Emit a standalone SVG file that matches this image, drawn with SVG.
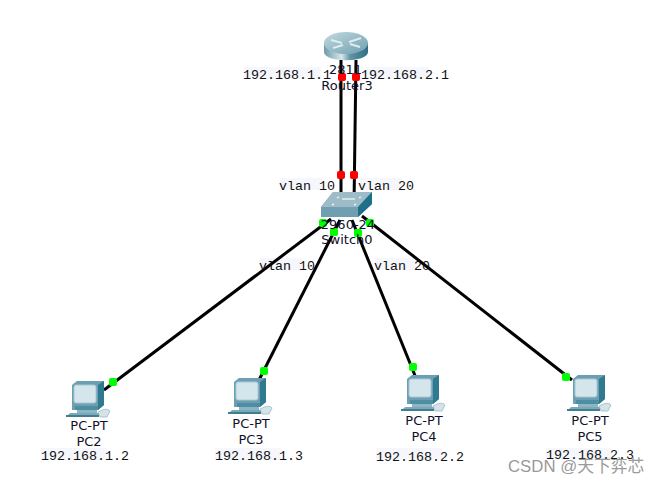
<svg xmlns="http://www.w3.org/2000/svg" width="660" height="483" viewBox="0 0 660 483">
<style>
.lnk{stroke:#000;stroke-width:3;fill:none}
.lbl{font:13px "DejaVu Sans","Liberation Sans",sans-serif;fill:#10102a;text-anchor:middle}
.ip{font:13.33px "Liberation Mono","DejaVu Sans Mono",monospace;fill:#111}
.bg{fill:#f5f7fc}
.wm{font:16.8px "Liberation Sans","Noto Sans CJK SC",sans-serif;fill:#9a9a9a}
</style>
<defs>
<linearGradient id="rt" x1="0" x2="1" y1="0" y2="0">
<stop offset="0" stop-color="#6f9aa8"/><stop offset=".4" stop-color="#d6e6ea"/><stop offset=".6" stop-color="#5f93a3"/><stop offset="1" stop-color="#2f6f85"/>
</linearGradient>
<linearGradient id="rtop" x1="0" x2="1" y1="0" y2="1">
<stop offset="0" stop-color="#c4dae0"/><stop offset="1" stop-color="#6e9fae"/>
</linearGradient>
<g id="pc">
<path d="M1 3L6 -1H33V23L27 28H1Z" fill="#6b9fb1"/>
<path d="M27 3L33 -1V23L27 28Z" fill="#2f7a90"/>
<rect x="3" y="3" width="22" height="18" rx="2" fill="#d5e5ec" stroke="#a8c8d4"/>
<rect x="4" y="24" width="23" height="4" fill="#4f8da2"/>
<rect x="6" y="28" width="20" height="3" fill="#8db5c3"/>
<path d="M-1 31H29L27 35H-5Z" fill="#7aa9ba"/>
<path d="M-5 33H28V35H-5Z" fill="#3f7d92"/>
<path d="M27 30Q36 25 39 29L36 35H29Z" fill="#d4e3e8" stroke="#8fb3c0" stroke-width=".7"/>
</g>
</defs>
<rect width="660" height="483" fill="#fff"/>
<g id="label-backs">
<rect x="244" y="67" width="77" height="12" class="bg"/><rect x="366" y="67" width="63" height="12" class="bg"/>
<rect x="280" y="178" width="42" height="12" class="bg"/><rect x="360" y="178" width="42" height="12" class="bg"/>
<rect x="260" y="258" width="42" height="12" class="bg"/><rect x="375" y="258" width="42" height="12" class="bg"/>
<rect x="41" y="448" width="66" height="12" class="bg"/><rect x="215" y="448" width="66" height="12" class="bg"/>
<rect x="376" y="448" width="66" height="12" class="bg"/><rect x="546" y="448" width="66" height="12" class="bg"/>
</g>
<g id="connectors">
<path class="lnk" d="M341 60V205"/>
<path class="lnk" d="M356 60L354 205"/>
<path class="lnk" d="M331 219L104 390"/>
<path class="lnk" d="M340 220L259 380"/>
<path class="lnk" d="M352 220L416 378"/>
<path class="lnk" d="M362 216L572 380"/>
</g>
<g id="router3">
<path d="M324 43V52C324 63 368 63 368 52V43Z" fill="url(#rt)"/>
<ellipse cx="346" cy="43" rx="22" ry="11" fill="url(#rtop)"/>
<path d="M331 40L342 43M361 38L349 42M333 48L343 45M360 47L350 44" stroke="#dcecf0" stroke-width="2" fill="none"/>
</g>
<g id="switch0">
<path d="M321 207L333 192H372V204L358 217H321Z" fill="#6f9fb0"/>
<path d="M321 207L333 192H372L358 207Z" fill="#9dbcc7"/>
<path d="M358 207L372 192V204L358 217Z" fill="#1f6f88"/>
<path d="M332 205l2-1M337 198l2-1M354 205l2-1M359 198l2-1M342 199H355" stroke="#e4eef2" stroke-width="1.500"/>
</g>
<g id="pc2"><use href="#pc" x="71" y="382"/></g>
<g id="pc3"><use href="#pc" x="233" y="379"/></g>
<g id="pc4"><use href="#pc" x="406" y="376"/></g>
<g id="pc5"><use href="#pc" x="572" y="376"/></g>
<g id="status-lights">
<g fill="#f00"><rect x="338" y="73" width="8" height="8" rx="2"/><rect x="352" y="73" width="8" height="8" rx="2"/><rect x="337" y="171" width="8" height="8" rx="2"/><rect x="350" y="171" width="8" height="8" rx="2"/></g>
<g fill="#0f0"><rect x="319" y="219" width="8" height="8" rx="2"/><rect x="330" y="228" width="8" height="8" rx="2"/><rect x="354" y="229" width="8" height="8" rx="2"/><rect x="366" y="219" width="8" height="8" rx="2"/><rect x="109" y="378" width="8" height="8" rx="2"/><rect x="260" y="367" width="8" height="8" rx="2"/><rect x="409" y="363" width="8" height="8" rx="2"/><rect x="562" y="373" width="8" height="8" rx="2"/></g>
</g>
<g id="labels">
<text class="ip" x="243" y="79">192.168.1.1</text>
<text class="ip" x="361" y="79">192.168.2.1</text>
<text class="lbl" x="345.500" y="74">2811</text>
<text class="lbl" x="347" y="90">Router3</text>
<text class="ip" x="279" y="190">vlan 10</text>
<text class="ip" x="358" y="190">vlan 20</text>
<text class="lbl" x="348" y="229">2960-24</text>
<text class="lbl" x="347" y="244">Switch0</text>
<text class="ip" x="259" y="270">vlan 10</text>
<text class="ip" x="374" y="270">vlan 20</text>
<text class="lbl" x="89" y="430">PC-PT</text><text class="lbl" x="89" y="446">PC2</text>
<text class="ip" x="41" y="460">192.168.1.2</text>
<text class="lbl" x="251" y="428">PC-PT</text><text class="lbl" x="251" y="444">PC3</text>
<text class="ip" x="215" y="460">192.168.1.3</text>
<text class="lbl" x="424" y="425">PC-PT</text><text class="lbl" x="424" y="441">PC4</text>
<text class="ip" x="376" y="461">192.168.2.2</text>
<text class="lbl" x="590" y="425">PC-PT</text><text class="lbl" x="590" y="441">PC5</text>
<text class="ip" x="546" y="459">192.168.2.3</text>
</g>
<text class="wm" x="508" y="472">CSDN @天下弈芯</text>
</svg>
